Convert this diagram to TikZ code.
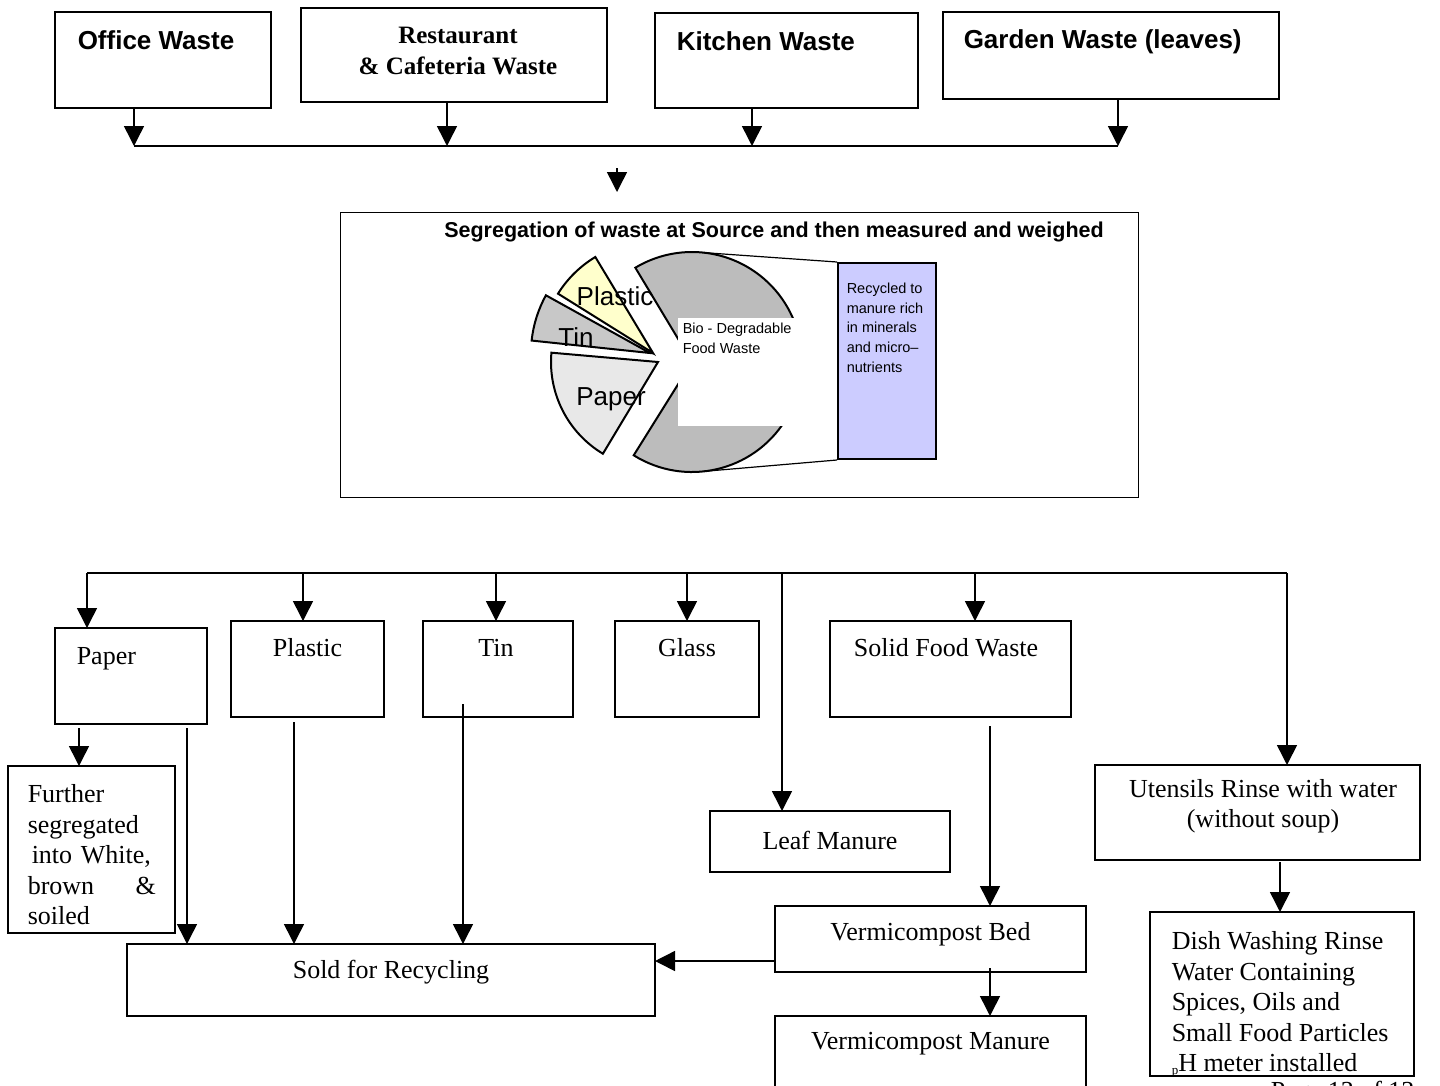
\documentclass[tikz,border=0pt]{standalone}
\usepackage{fontspec}
\setmainfont{Liberation Serif}
\newfontfamily\arialfont{Liberation Sans}
\usetikzlibrary{arrows.meta}
\definecolor{lavender}{RGB}{204,204,255}
\definecolor{plasticfill}{RGB}{255,255,204}
\definecolor{tinfill}{RGB}{200,200,200}
\definecolor{paperfill}{RGB}{232,232,232}
\definecolor{biofill}{RGB}{188,188,188}
\tikzstyle{wbox} = [draw, line width=1.5pt, anchor=north west,%
	inner sep=0pt, outer sep=0pt]
\tikzstyle{slice} = [draw=black, line width=2pt]

\begin{document}
\begin{tikzpicture}[x=1pt,y=-1pt,>={Triangle[length=20pt,width=20pt]},line width=1.5pt]
    \tikzstyle{head}=[font=\arialfont\bfseries\fontsize{26}{30}\selectfont,inner sep=0pt]
    \tikzstyle{headserif}=[font=\bfseries\fontsize{25}{31}\selectfont,inner sep=0pt]
    \tikzstyle{serif}=[font=\fontsize{26}{30.5}\selectfont,inner sep=0pt]
    \tikzstyle{piefont}=[font=\arialfont\fontsize{26}{30}\selectfont,inner sep=0pt]
    \tikzstyle{small}=[font=\arialfont\fontsize{14.5}{19.8}\selectfont,inner sep=0pt]
    \useasboundingbox (0,0) rectangle (1440,1085);

    % sources of waste
    \node[wbox,minimum width=216pt,minimum height=96pt,
      label={[head,anchor=west,xshift=22pt,yshift=-28pt]north west:Office Waste}] (office) at (55,12) {};
    \node[wbox,minimum width=306pt,minimum height=94pt,
      label={[headserif,align=center,anchor=center,xshift=4pt,yshift=-42.5pt]north:{Restaurant\\\& Cafeteria Waste}}] (rest) at (301,8) {};
    \node[wbox,minimum width=263pt,minimum height=95pt,
      label={[head,anchor=west,xshift=21pt,yshift=-28pt]north west:Kitchen Waste}] (kitchen) at (655,13) {};
    \node[wbox,minimum width=336pt,minimum height=87pt,
      label={[head,anchor=west,xshift=20pt,yshift=-30pt]north west:Garden Waste (leaves)}] (garden) at (943,12) {};

    \coordinate (busA) at (134,146);
    \draw[->] ([xshift=-29pt]office.south) -- ([xshift=-29pt]office.south |- busA);
    \draw[->] ([xshift=-7pt]rest.south) -- ([xshift=-7pt]rest.south |- busA);
    \draw[->] ([xshift=-34.5pt]kitchen.south) -- ([xshift=-34.5pt]kitchen.south |- busA);
    \draw[->] ([xshift=7pt]garden.south) -- ([xshift=7pt]garden.south |- busA);
    \draw (busA) -- ([xshift=7pt]garden.south |- busA);
    \coordinate (feedA) at (617,168);
    \coordinate (feedB) at (617,192);
    \draw[->] (feedA) -- (feedB);

    % segregation and pie
    \node[wbox,line width=1pt,minimum width=798pt,minimum height=285pt,
      label={[font=\arialfont\bfseries\fontsize{21.5}{25}\selectfont,inner sep=0pt,anchor=center,xshift=35pt,yshift=-20pt]north:Segregation of waste at Source and then measured and weighed}] (seg) at (340,212) {};
    \begin{scope}[shift={(692,362)},y=1pt]
      \filldraw[slice,fill=biofill] (0,0) -- (-122:110) arc[start angle=-122,end angle=121,radius=110] -- cycle;
      \coordinate (biotop) at (84:110);
      \coordinate (biobot) at (-84:110);
    \end{scope}
    \node[fill=white,anchor=north west,inner sep=0pt,minimum width=132pt,minimum height=108pt,
      label={[small,anchor=north west,align=left,xshift=5pt,yshift=-5pt]north west:{Bio - Degradable\\Food Waste}}] (biotag) at (677,317) {};
    \begin{scope}[shift={(692,362)},y=1pt]
      \filldraw[slice,fill=plasticfill] (-39,9) -- ++(121:112) arc[start angle=121,end angle=148,radius=112] -- cycle;
      \filldraw[slice,fill=tinfill] (-42,9) -- ++(151:119) arc[start angle=151,end angle=174,radius=119] -- cycle;
      \filldraw[slice,fill=paperfill] (-34,0) -- ++(175:107) arc[start angle=175,end angle=239,radius=107] -- cycle;
    \end{scope}
    \node[piefont] (plasticlab) at (615,296) {Plastic};
    \node[piefont] (tinlab) at (576,337) {Tin};
    \node[piefont] (paperlab) at (611,399) {Paper};
    \node[draw,line width=2pt,fill=lavender,anchor=north west,inner sep=0pt,minimum width=98pt,minimum height=196pt,
      label={[small,anchor=north west,align=left,xshift=9pt,yshift=-20pt]north west:{Recycled to\\manure rich\\in minerals\\and micro\textendash\\nutrients}}] (bar) at (837,262) {};
    \draw[line width=1.2pt] (biotop) -- (bar.north west);
    \draw[line width=1.2pt] (biobot) -- (bar.south west);

    % sorted streams
    \node[wbox,minimum width=152pt,minimum height=96pt,
      label={[serif,anchor=west,xshift=21pt,yshift=-31pt]north west:Paper}] (paper) at (55,628) {};
    \node[wbox,minimum width=153pt,minimum height=96pt,
      label={[serif,anchor=center,yshift=-27pt]north:Plastic}] (plastic) at (231,621) {};
    \node[wbox,minimum width=150pt,minimum height=96pt,
      label={[serif,anchor=center,xshift=-2pt,yshift=-27pt]north:Tin}] (tin) at (423,621) {};
    \node[wbox,minimum width=144pt,minimum height=96pt,
      label={[serif,anchor=center,yshift=-27pt]north:Glass}] (glass) at (615,621) {};
    \node[wbox,minimum width=241pt,minimum height=96pt,
      label={[serif,anchor=center,xshift=-4.5pt,yshift=-27pt]north:Solid Food Waste}] (solid) at (830,621) {};
    \node[wbox,minimum width=167pt,minimum height=167pt,
      label={[serif,anchor=north west,align=left,text width=128pt,xshift=19pt,yshift=-18pt]north west:{Further\\segregated\\\hspace*{4pt}into White,\\brown\hfill\&\\soiled}}] (further) at (8,766) {};
    \node[wbox,minimum width=240pt,minimum height=61pt,
      label={[serif,anchor=center,yshift=-29pt]north:Leaf Manure}] (leaf) at (710,811) {};
    \node[wbox,minimum width=325pt,minimum height=95pt,
      label={[serif,align=center,anchor=center,xshift=5.5pt,yshift=-41pt]north:{Utensils Rinse with water\\(without soup)}}] (utensils) at (1095,765) {};
    \node[wbox,minimum width=528pt,minimum height=72pt,
      label={[serif,anchor=center,yshift=-28pt]north:Sold for Recycling}] (sold) at (127,944) {};
    \node[wbox,minimum width=311pt,minimum height=66pt,
      label={[serif,anchor=center,yshift=-28pt]north:Vermicompost Bed}] (bed) at (775,906) {};
    \node[wbox,minimum width=311pt,minimum height=90pt,
      label={[serif,anchor=center,yshift=-28pt]north:Vermicompost Manure}] (manure) at (775,1016) {};
    \node[wbox,minimum width=264pt,minimum height=164pt,
      label={[serif,anchor=north west,align=left,xshift=21pt,yshift=-19pt]north west:{Dish Washing Rinse\\Water Containing\\Spices, Oils and\\Small Food Particles\\\raisebox{-3pt}{\fontsize{13}{13}\selectfont p}H meter installed}}] (dish) at (1150,912) {};
    \node[serif,anchor=north west] (pagefoot) at (1270,1080) {Page 13 of 13};

    \coordinate (busB) at (0,573);
    \draw ([xshift=-44pt]paper.north |- busB) -- ([xshift=29.5pt]utensils.north |- busB);
    \foreach \nd/\dx in {paper/-44,plastic/-4.5,tin/-2,glass/0,solid/24.5,leaf/-48,utensils/29.5}
      \draw[->] ([xshift=\dx pt]\nd.north |- busB) -- ([xshift=\dx pt]\nd.north);
    \draw[->] ([xshift=-52pt,yshift=-4pt]paper.south) -- ([xshift=-52pt]paper.south |- further.north);
    \draw[->] ([xshift=56pt,yshift=-4pt]paper.south) -- ([xshift=56pt]paper.south |- sold.north);
    \draw[->] ([xshift=-13.5pt,yshift=-5pt]plastic.south) -- ([xshift=-13.5pt]plastic.south |- sold.north);
    \draw[->] ([xshift=-35pt,yshift=13pt]tin.south) -- ([xshift=-35pt]tin.south |- sold.north);
    \draw[->] ([xshift=39.5pt,yshift=-9pt]solid.south) -- ([xshift=39.5pt]solid.south |- bed.north);
    \draw[->] ([xshift=59.5pt,yshift=4pt]bed.south) -- ([xshift=59.5pt]bed.south |- manure.north);
    \draw[->] ([yshift=-22pt]bed.west) -- ([yshift=-22pt]bed.west -| sold.east);
    \draw[->] ([xshift=22.5pt,yshift=-2pt]utensils.south) -- ([xshift=22.5pt]utensils.south |- dish.north);
\end{tikzpicture}
\end{document}
